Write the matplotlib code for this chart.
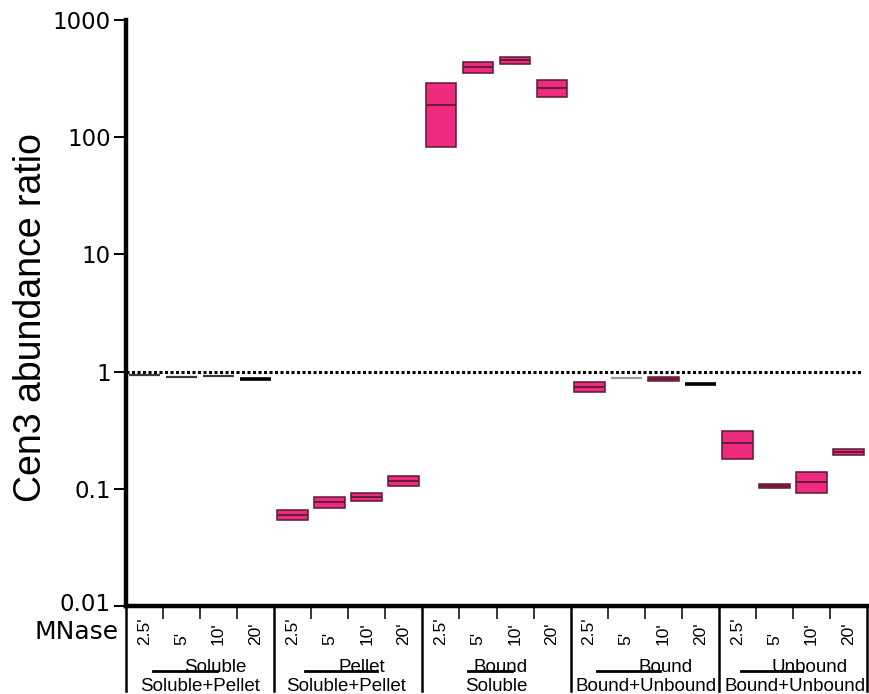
import numpy as np
import matplotlib
matplotlib.use("Agg")
import matplotlib.pyplot as plt
from matplotlib.lines import Line2D
from matplotlib.transforms import ScaledTranslation

# Ratio groups (numerator / denominator) and MNase digestion times
numerators = ["Soluble", "Pellet", "Bound", "Bound", "Unbound"]
denominators = ["Soluble+Pellet", "Soluble+Pellet", "Soluble", "Bound+Unbound", "Bound+Unbound"]
times = ["2.5'", "5'", "10'", "20'"]

# Box statistics for each of the 20 columns (group x time)
q1 = [0.93, 0.906, 0.912, 0.863,
      0.0543, 0.0682, 0.0793, 0.1065,
      82.6, 351, 425, 219,
      0.666, 0.877, 0.838, 0.785,
      0.179, 0.101, 0.0916, 0.196]
median = [0.93, 0.906, 0.912, 0.863,
          0.0594, 0.0767, 0.0858, 0.117,
          187, 398, 453, 261,
          0.734, 0.877, 0.865, 0.785,
          0.246, 0.105, 0.115, 0.206]
q3 = [0.93, 0.906, 0.912, 0.863,
      0.0656, 0.0858, 0.0923, 0.128,
      292, 442, 484, 308,
      0.81, 0.877, 0.894, 0.785,
      0.314, 0.110, 0.139, 0.217]

ytick_vals = [0.01, 0.1, 1, 10, 100, 1000]
ytick_labels = ["0.01", "0.1", "1", "10", "100", "1000"]

FILL = "#ee2b7e"
EDGE = "#5a1a34"
BOX_W = 0.83

# collapsed boxes are drawn as single lines
flat_style = {0: ("#3a3a3a", 1.6), 1: ("#3a3a3a", 1.6), 2: ("#3a3a3a", 1.6),
              3: ("black", 2.6), 13: ("#9c9c9c", 1.6), 15: ("black", 2.6)}

W, H = 869, 694
fig = plt.figure(figsize=(W / 100, H / 100), dpi=100)
ax = fig.add_axes([126 / W, 88 / H, 741 / W, 586 / H])
ax.set_yscale("log")
ax.set_ylim(0.01, 1000)
ax.set_xlim(-0.5, 19.5)


def ay(py):
    """Axes fraction for a pixel row measured from the top of the figure."""
    return (606 - py) / 586.0


xs = np.arange(len(median))
for i in xs:
    if q3[i] > q1[i]:
        ax.bar(i, q3[i] - q1[i], bottom=q1[i], width=BOX_W, color=FILL,
               edgecolor=EDGE, linewidth=1.1, zorder=3)
        ax.hlines(median[i], i - BOX_W / 2, i + BOX_W / 2, color=EDGE,
                  linewidth=1.3, zorder=4)
    else:
        c, lw = flat_style.get(i, (EDGE, 2))
        ax.hlines(median[i], i - BOX_W / 2, i + BOX_W / 2, color=c,
                  linewidth=lw, zorder=4)

# reference level at ratio = 1
ax.axhline(1, xmin=0, xmax=0.992, color="black", linestyle=(0, (1, 0.8)),
           linewidth=2.2, zorder=2)

# axes styling
for s in ("top", "right"):
    ax.spines[s].set_visible(False)
ax.spines["left"].set_linewidth(3.2)
ax.spines["bottom"].set_linewidth(3.2)
ax.set_yticks(ytick_vals)
ax.set_yticklabels(ytick_labels, fontsize=16.5, family="DejaVu Sans")
ax.yaxis.set_minor_locator(matplotlib.ticker.NullLocator())
ax.tick_params(axis="y", which="major", length=9, width=1.4, pad=2)
# nudge the lowest label up a few pixels so it clears the row label below
low_lbl = ax.get_yticklabels()[0]
low_lbl.set_transform(low_lbl.get_transform()
                      + ScaledTranslation(0, 4 / 100, fig.dpi_scale_trans))

minor_x = [g * 4 + k + 0.5 for g in range(5) for k in range(3)]
ax.set_xticks([])
ax.set_xticks(minor_x, minor=True)
ax.tick_params(axis="x", which="minor", length=9, width=1.1,
               labelbottom=False)

xt = ax.get_xaxis_transform()

# group dividers below the axis
for b in np.arange(-0.5, 20, 4):
    ax.add_line(Line2D([b, b], [0, ay(691)], transform=xt, color="black",
                       linewidth=1.8, clip_on=False))

# time labels
for i in xs:
    ax.text(i, ay(645), times[i % 4], transform=xt, rotation=90,
            ha="center", va="bottom", fontsize=12.5,
            family="Liberation Sans")

# ratio labels: numerator, fraction bar, denominator
num_off = [0.4, 0.37, 0.12, 0.57, 0.46]
bar_span = [(-1.27, 0.46), (-1.17, 0.77), (-0.77, 0.42), (-1.29, 0.41),
            (-1.4, 0.24)]
den_off = [0.0, -0.06, 0.0, 0.03, 0.05]
for g in range(5):
    c = 4 * g + 1.5
    ax.text(c + num_off[g], ay(672), numerators[g], transform=xt,
            ha="center", va="baseline", fontsize=13.5,
            family="Liberation Sans")
    ax.add_line(Line2D([c + bar_span[g][0], c + bar_span[g][1]],
                       [ay(671), ay(671)], transform=xt, color="black",
                       linewidth=2, clip_on=False))
    ax.text(c + den_off[g], ay(691), denominators[g], transform=xt,
            ha="center", va="baseline", fontsize=13.5,
            family="Liberation Sans")

fig.text(119 / W, 1 - 639 / H, "MNase", ha="right", va="baseline",
         fontsize=18, family="DejaVu Sans")
fig.text(31 / W, 1 - 318 / H, "Cen3 abundance ratio", rotation=90,
         ha="center", va="center", fontsize=27, family="Liberation Sans")

fig.savefig("out.png", dpi=100)
